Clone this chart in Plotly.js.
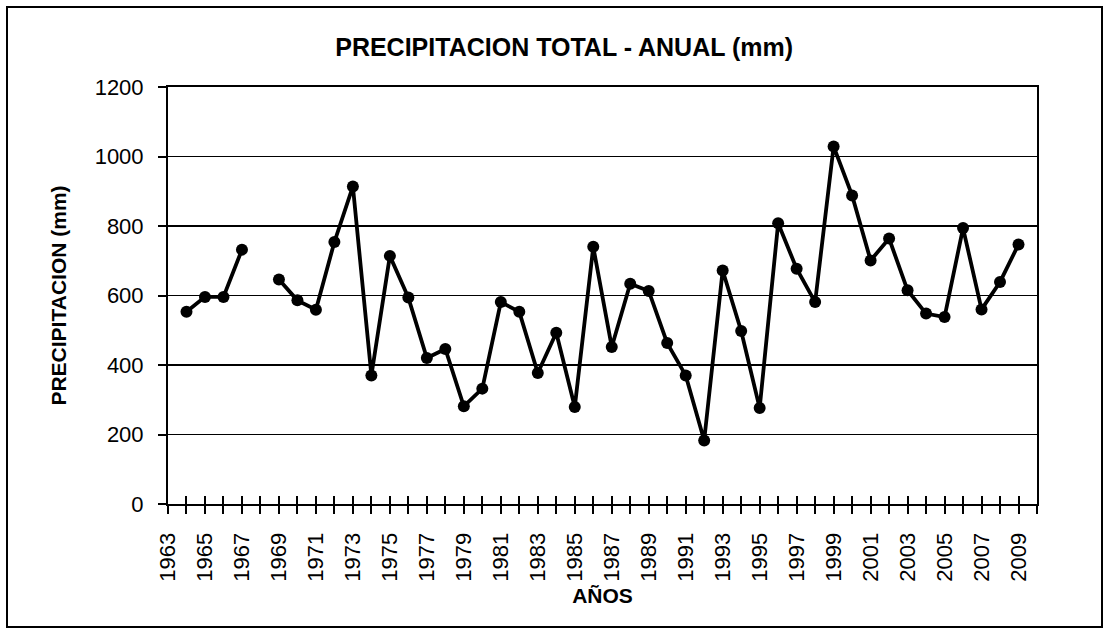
<!DOCTYPE html>
<html>
<head>
<meta charset="utf-8">
<script src="https://cdn.plot.ly/plotly-3.0.1.min.js"></script>
<style>
  html, body { margin: 0; padding: 0; background: #fff; }
  #wrap { position: relative; width: 1104px; height: 629px; }
  #chart { position: absolute; left: 0; top: 0; width: 1104px; height: 629px; }
  #frame { position: absolute; left: 6px; top: 6px; width: 1097px; height: 622px;
           box-sizing: border-box; border: 2px solid #000; pointer-events: none; }
</style>
</head>
<body>
<div id="wrap"><div id="chart"></div><div id="frame"></div></div>
<script>
// Data
var years = [1964, 1965, 1966, 1967, 1968, 1969, 1970, 1971, 1972, 1973,
             1974, 1975, 1976, 1977, 1978, 1979, 1980, 1981, 1982, 1983,
             1984, 1985, 1986, 1987, 1988, 1989, 1990, 1991, 1992, 1993,
             1994, 1995, 1996, 1997, 1998, 1999, 2000, 2001, 2002, 2003,
             2004, 2005, 2006, 2007, 2008, 2009];
var precipitation = [553, 596, 596, 732, null, 646, 586, 559, 754, 914,
                     370, 714, 594, 420, 446, 281, 332, 581, 553, 377,
                     493, 279, 740, 452, 634, 613, 463, 370, 183, 672,
                     498, 276, 808, 677, 581, 1029, 888, 701, 764, 615,
                     548, 538, 794, 560, 639, 747];
var axisYears = [1963, 2010];
var titleText = 'PRECIPITACION TOTAL - ANUAL (mm)';
var xTitle = 'AÑOS';
var yTitle = 'PRECIPITACION (mm)';

var FONT = 'Liberation Sans, Arial, sans-serif';

var traces = [
  {
    x: years, y: precipitation, type: 'scatter', mode: 'lines+markers',
    connectgaps: false,
    line: { color: '#000', width: 3.8 },
    marker: { color: '#000', size: 12 },
    showlegend: false, hoverinfo: 'x+y'
  },
  {
    x: axisYears, y: [null, null], xaxis: 'x2', yaxis: 'y',
    type: 'scatter', mode: 'lines', showlegend: false, hoverinfo: 'skip'
  }
];

var layout = {
  width: 1104, height: 629,
  margin: { l: 168, r: 67, t: 87, b: 125 },
  paper_bgcolor: '#fff', plot_bgcolor: '#fff',
  font: { family: FONT, color: '#000', size: 21 },
  title: {
    text: titleText,
    font: { family: FONT, size: 25, weight: 'bold', color: '#000' },
    x: 0.511, xref: 'container', xanchor: 'center',
    y: 0.925, yref: 'container', yanchor: 'middle'
  },
  xaxis: {
    range: axisYears, type: 'linear',
    tick0: 1963, dtick: 2, tickangle: -90,
    ticks: 'outside', ticklen: 8, tickwidth: 2, tickcolor: '#000',
    minor: { dtick: 1, tick0: 1963, ticks: 'outside', ticklen: 8, tickwidth: 2, tickcolor: '#000', showgrid: false },
    showline: true, linecolor: '#000', linewidth: 2, mirror: true,
    showgrid: false, zeroline: false,
    tickfont: { family: FONT, size: 22, color: '#000' },
    ticklabelstandoff: 10,
    title: { text: xTitle, font: { family: FONT, size: 21, weight: 'bold', color: '#000' }, standoff: 8 }
  },
  xaxis2: {
    range: axisYears, type: 'linear', overlaying: 'x', anchor: 'y', side: 'bottom',
    tick0: 1963, dtick: 1, ticks: 'inside', ticklen: 8, tickwidth: 2, tickcolor: '#000',
    showticklabels: false, showline: false, showgrid: false, zeroline: false
  },
  yaxis: {
    range: [0, 1200], dtick: 200, tick0: 0,
    ticks: 'outside', ticklen: 8, tickwidth: 2, tickcolor: '#000',
    showline: true, linecolor: '#000', linewidth: 2, mirror: true,
    showgrid: true, gridcolor: '#000', gridwidth: 1.6, zeroline: false,
    tickfont: { family: FONT, size: 22, color: '#000' },
    ticklabelstandoff: 10,
    title: { text: yTitle, font: { family: FONT, size: 21, weight: 'bold', color: '#000' }, standoff: 22 }
  }
};

Plotly.newPlot('chart', traces, layout, { staticPlot: true, displayModeBar: false });
</script>
</body>
</html>
